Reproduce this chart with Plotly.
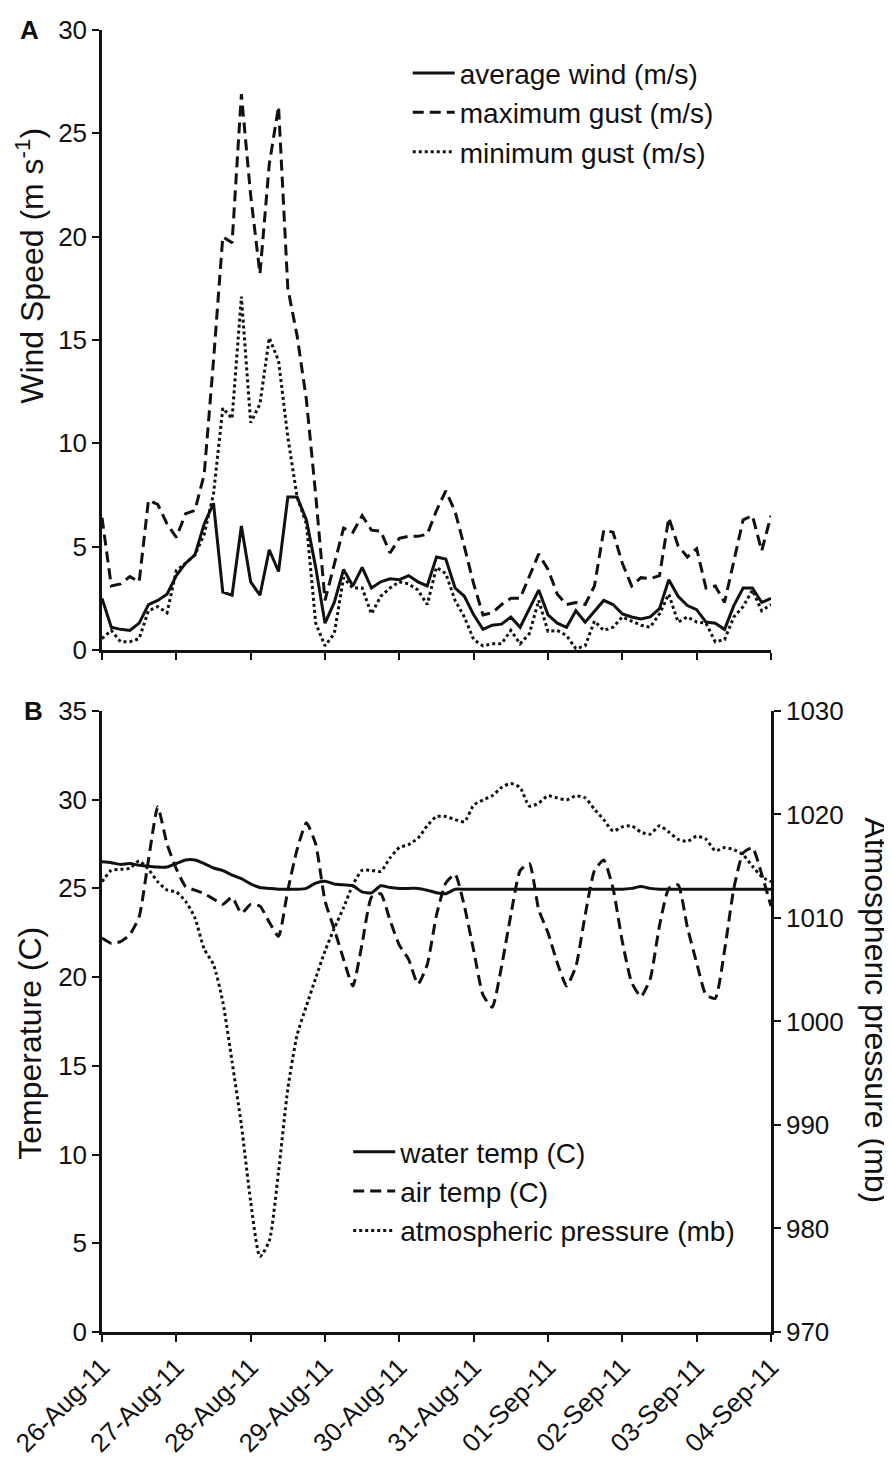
import pandas as pd
import plotly.graph_objects as go

# 3-hourly readings, 26 Aug 2011 00:00 -> 04 Sep 2011 00:00
times = pd.date_range("2011-08-26 00:00", periods=73, freq="3h")

# Panel A: wind (m/s)
avg_wind = [2.5, 1.1, 1.0, 0.95, 1.3, 2.2, 2.4, 2.7, 3.6, 4.2, 4.6, 6.1, 7.1, 2.8, 2.65, 6.0,
            3.3, 2.65, 4.85, 3.8, 7.4, 7.4, 6.3, 4.0, 1.3, 2.3, 3.9, 3.1, 4.0, 3.0, 3.3, 3.45,
            3.4, 3.6, 3.3, 3.1, 4.5, 4.4, 3.0, 2.6, 1.7, 1.0, 1.2, 1.25, 1.6, 1.1, 2.0, 2.9,
            1.7, 1.3, 1.1, 1.9, 1.35, 1.9, 2.4, 2.2, 1.75, 1.6, 1.5, 1.6, 2.0, 3.4, 2.6, 2.15,
            1.95, 1.35, 1.3, 1.0, 2.15, 3.0, 3.0, 2.3, 2.5]
max_gust = [6.4, 3.1, 3.2, 3.55, 3.3, 7.25, 7.05, 6.1, 5.45, 6.6, 6.75, 8.5, 14.0, 20.0, 19.7, 26.9,
            22.0, 18.2, 23.5, 26.3, 17.5, 15.2, 12.1, 7.5, 2.4, 4.2, 5.9, 5.7, 6.5, 5.8, 5.75, 4.7,
            5.4, 5.5, 5.5, 5.6, 6.75, 7.7, 6.7, 5.0, 3.2, 1.7, 1.8, 2.2, 2.5, 2.5, 3.6, 4.65,
            3.9, 2.7, 2.2, 2.3, 2.2, 3.1, 5.8, 5.7, 4.2, 3.1, 3.5, 3.45, 3.6, 6.4, 5.05, 4.5,
            4.9, 3.0, 3.1, 2.3, 4.3, 6.3, 6.5, 4.8, 6.5]
min_gust = [0.55, 0.95, 0.4, 0.4, 0.55, 1.9, 2.1, 1.8, 3.85, 4.2, 4.6, 5.6, 7.55, 11.7, 11.2, 17.1,
            11.0, 11.9, 15.1, 14.0, 10.3, 7.4, 6.1, 1.3, 0.2, 0.8, 3.5, 3.0, 3.0, 1.75, 2.6, 3.0,
            3.3, 3.2, 2.9, 2.2, 4.0, 3.7, 2.4, 1.6, 0.5, 0.2, 0.3, 0.3, 0.95, 0.3, 0.8, 2.4,
            0.9, 0.95, 0.7, 0.06, 0.2, 1.4, 0.95, 1.1, 1.6, 1.4, 1.2, 1.1, 1.75, 2.7, 1.35, 1.6,
            1.35, 1.3, 0.4, 0.5, 1.6, 2.1, 2.9, 1.9, 2.2]

# Panel B: temperatures (C) and pressure (mb)
water_temp = [26.5, 26.45, 26.35, 26.4, 26.3, 26.25, 26.2, 26.2, 26.4, 26.6, 26.6, 26.4, 26.15, 26.0, 25.75, 25.55,
              25.25, 25.05, 25.0, 24.95, 24.95, 24.95, 25.0, 25.3, 25.4, 25.25, 25.2, 25.15, 24.8, 24.75, 25.15, 25.05,
              25.0, 25.0, 25.0, 24.9, 24.75, 24.7, 24.95, 24.95, 24.95, 24.95, 24.95, 24.95, 24.95, 24.95, 24.95, 24.95,
              24.95, 24.95, 24.95, 24.95, 24.95, 24.95, 24.95, 24.95, 24.95, 25.0, 25.1, 25.0, 24.95, 24.95, 24.95, 24.95,
              24.95, 24.95, 24.95, 24.95, 24.95, 24.95, 24.95, 24.95, 24.95]
air_temp = [22.2, 21.9, 22.0, 22.4, 23.4, 26.6, 29.6, 27.5, 26.1, 25.1, 24.9, 24.7, 24.4, 24.1, 24.5, 23.6,
            24.1, 24.0, 23.1, 22.3, 24.9, 27.2, 28.7, 27.5, 24.3, 22.7, 21.0, 19.5, 21.9, 24.5, 24.7, 23.2,
            21.8, 21.0, 19.6, 20.7, 23.5, 25.3, 25.8, 24.0, 21.5, 19.0, 18.3, 20.6, 23.5, 26.0, 26.4, 23.8,
            22.5, 20.8, 19.5, 20.6, 23.5, 26.0, 26.6, 25.0, 22.0, 19.7, 18.9, 19.9, 22.9, 25.0, 25.2, 22.8,
            20.8, 19.0, 18.8, 21.5, 25.0, 27.0, 27.3, 25.8, 24.0]
pressure = [1013.5, 1014.6, 1014.7, 1014.8, 1015.5, 1014.7, 1013.5, 1012.7, 1012.5, 1011.6, 1010.0, 1007.0, 1005.5, 1001.9, 996.1, 990.0,
            982.6, 977.3, 978.8, 985.5, 993.5, 998.7, 1001.5, 1004.2, 1006.8, 1009.0, 1011.0, 1013.2, 1014.6, 1014.6, 1014.5, 1015.8,
            1016.8, 1017.1, 1017.7, 1018.9, 1019.8, 1019.8, 1019.5, 1019.3, 1020.9, 1021.4, 1021.8, 1022.6, 1023.0, 1022.6, 1020.8, 1021.1,
            1021.8, 1021.6, 1021.4, 1021.8, 1021.6, 1020.5, 1019.5, 1018.4, 1018.8, 1018.9, 1018.3, 1018.1, 1018.9, 1018.3, 1017.6, 1017.4,
            1017.9, 1017.6, 1016.5, 1016.8, 1016.6, 1016.1, 1015.0, 1014.0, 1013.5]

day_ticks = pd.date_range("2011-08-26", "2011-09-04", freq="D")

FONT = "Liberation Sans, Arial, sans-serif"
INK = "#111111"
DASH = "11px,6px"
DOT = "3px,3px"

fig = go.Figure()

# panel A
fig.add_trace(go.Scatter(x=times, y=avg_wind, name="average wind (m/s)", mode="lines",
                         line=dict(color=INK, width=3), xaxis="x", yaxis="y", legend="legend"))
fig.add_trace(go.Scatter(x=times, y=max_gust, name="maximum gust (m/s)", mode="lines",
                         line=dict(color=INK, width=3, dash=DASH), xaxis="x", yaxis="y", legend="legend"))
fig.add_trace(go.Scatter(x=times, y=min_gust, name="minimum gust (m/s)", mode="lines",
                         line=dict(color=INK, width=3, dash=DOT), xaxis="x", yaxis="y", legend="legend"))

# panel B
fig.add_trace(go.Scatter(x=times, y=water_temp, name="water temp (C)", mode="lines",
                         line=dict(color=INK, width=3, shape="spline", smoothing=0.6),
                         xaxis="x2", yaxis="y2", legend="legend2"))
fig.add_trace(go.Scatter(x=times, y=air_temp, name="air temp (C)", mode="lines",
                         line=dict(color=INK, width=3, dash=DASH, shape="spline", smoothing=0.5),
                         xaxis="x2", yaxis="y2", legend="legend2"))
fig.add_trace(go.Scatter(x=times, y=pressure, name="atmospheric pressure (mb)", mode="lines",
                         line=dict(color=INK, width=3, dash=DOT, shape="spline", smoothing=0.6),
                         xaxis="x2", yaxis="y3", legend="legend2"))

axis_common = dict(showline=True, linecolor=INK, linewidth=2.5, ticks="outside", ticklen=7,
                   tickwidth=2, tickcolor=INK, showgrid=False, zeroline=False, automargin=False,
                   tickfont=dict(family=FONT, size=26, color=INK))
title_font = dict(family=FONT, size=32, color=INK)
legend_font = dict(family=FONT, size=28, color=INK)

x_range = [day_ticks[0], day_ticks[-1]]

fig.update_layout(
    width=892, height=1462,
    margin=dict(l=94, r=129, t=22, b=138),
    plot_bgcolor="white", paper_bgcolor="white",
    font=dict(family=FONT, color=INK),
    xaxis=dict(axis_common, domain=[0, 1], anchor="y", range=x_range,
               tickvals=day_ticks, showticklabels=False),
    yaxis=dict(axis_common, domain=[0.5238, 1], anchor="x", range=[0, 30], dtick=5),
    xaxis2=dict(axis_common, domain=[0, 1], anchor="y2", range=x_range,
                tickvals=day_ticks, tickformat="%d-%b-%y", tickangle=-45),
    yaxis2=dict(axis_common, domain=[0, 0.477], anchor="x2", range=[0, 35], dtick=5),
    yaxis3=dict(axis_common, overlaying="y2", side="right", anchor="x2", range=[970, 1030], dtick=10),
    legend=dict(x=0.457, y=0.986, xanchor="left", yanchor="top", bgcolor="rgba(0,0,0,0)",
                font=legend_font, itemwidth=42, tracegroupgap=0),
    legend2=dict(x=0.368, y=0.1575, xanchor="left", yanchor="top", bgcolor="rgba(0,0,0,0)",
                 font=legend_font, itemwidth=42, tracegroupgap=0),
    annotations=[
        dict(text="<b>A</b>", xref="paper", yref="paper", x=-0.125, y=1.0, showarrow=False,
             xanchor="left", yanchor="middle", font=dict(family=FONT, size=26, color=INK)),
        dict(text="<b>B</b>", xref="paper", yref="paper", x=-0.12, y=0.477, showarrow=False,
             xanchor="left", yanchor="middle", font=dict(family=FONT, size=26, color=INK)),
        dict(text="Wind Speed (m s<sup>-1</sup>)", xref="paper", yref="paper", x=-0.108, y=0.8187,
             showarrow=False, textangle=-90, xanchor="center", yanchor="middle", font=title_font),
        dict(text="Temperature (C)", xref="paper", yref="paper", x=-0.108, y=0.222,
             showarrow=False, textangle=-90, xanchor="center", yanchor="middle", font=title_font),
        dict(text="Atmospheric pressure (mb)", xref="paper", yref="paper", x=1.157, y=0.247,
             showarrow=False, textangle=90, xanchor="center", yanchor="middle", font=title_font),
    ],
)

fig.write_html("out.html")
